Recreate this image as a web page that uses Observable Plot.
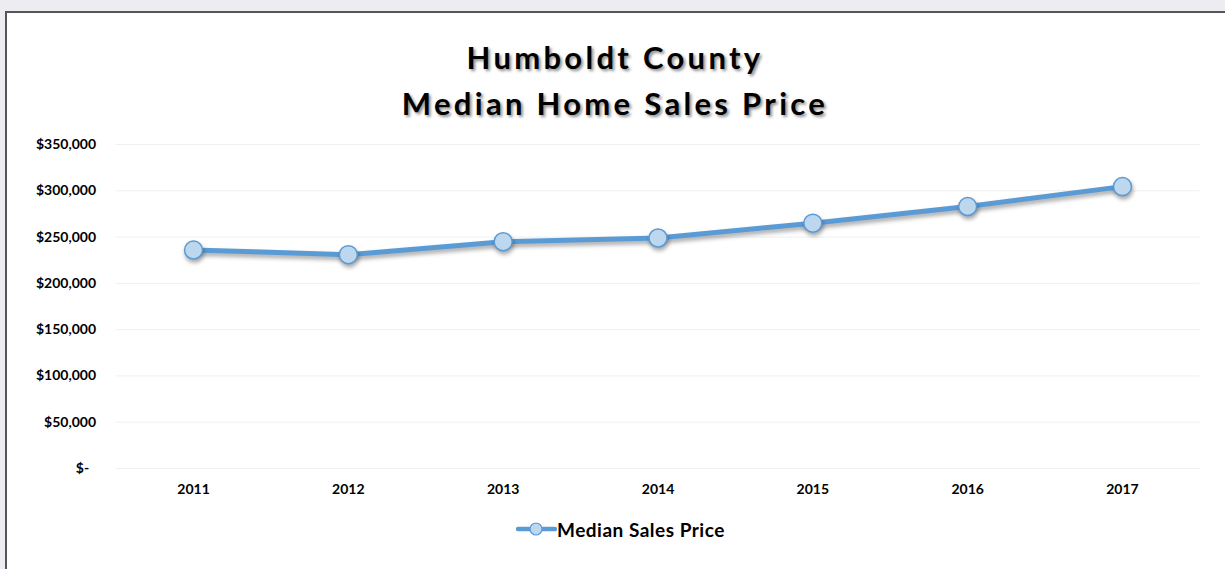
<!DOCTYPE html>
<html>
<head>
<meta charset="utf-8">
<script src="https://cdn.jsdelivr.net/npm/d3@7"></script>
<script src="https://cdn.jsdelivr.net/npm/@observablehq/plot@0.6"></script>
<style>
  html, body { margin: 0; padding: 0; overflow: hidden; }
  body { width: 1225px; height: 569px; background: #ececf1; font-family: Lato, "Open Sans", sans-serif; position: relative; }
  #frame { position: absolute; left: 5px; top: 11px; width: 1300px; height: 600px; border: 2px solid #555; background: #fff; }
  #title { position: absolute; left: 0; top: 0; width: 1216px; text-align: center; font-weight: 700; font-size: 31px; line-height: 46px; padding-top: 21px; letter-spacing: 3.3px; color: #000; text-shadow: 2px 2px 3px rgba(0,0,0,0.45); }
  #chart { position: absolute; left: 0; top: 117px; }
  #legend { position: absolute; left: 509px; top: 504px; height: 24px; display: flex; align-items: center; font-weight: 700; font-size: 19px; letter-spacing: 0.5px; color: #000; }
  #chart g[aria-label="line"] { filter: drop-shadow(1px 3px 2px rgba(0,0,0,0.35)); }
  #chart g[aria-label="dot"] { filter: drop-shadow(1px 3px 2px rgba(0,0,0,0.35)); }
</style>
</head>
<body>
<div id="frame">
  <div id="title">Humboldt County<br>Median Home Sales Price</div>
  <div id="chart"></div>
  <div id="legend">
    <svg width="41" height="24">
      <line x1="2" y1="12" x2="39" y2="12" stroke="#5B9BD5" stroke-width="4.5" stroke-linecap="round"></line>
      <circle cx="20" cy="12" r="6" fill="#BDD7EE" stroke="#5B9BD5" stroke-width="1.2"></circle>
    </svg>
    <span>Median Sales Price</span>
  </div>
</div>
<script>
const years = ["2011", "2012", "2013", "2014", "2015", "2016", "2017"];
const prices = [236000, 231000, 245000, 249000, 265000, 283000, 304500];
const yTicks = [0, 50000, 100000, 150000, 200000, 250000, 300000, 350000];

const data = years.map((year, i) => ({year, price: prices[i]}));
const fmt = v => v === 0 ? "$-\u2002" : "$" + d3.format(",")(v);

const chart = Plot.plot({
  width: 1216,
  height: 370,
  marginTop: 14,
  marginBottom: 32,
  marginLeft: 108.6,
  marginRight: 23.6,
  style: { fontFamily: "Lato, 'Open Sans', sans-serif", fontSize: "14px", fontWeight: "700", color: "#000", background: "transparent", overflow: "visible" },
  x: { type: "point", domain: years, padding: 0.5, round: false, label: null },
  y: { domain: [0, 350000], label: null },
  marks: [
    Plot.ruleY(yTicks, { stroke: "#f0f0f0", strokeWidth: 1 }),
    Plot.axisY(yTicks, { tickSize: 0, tickPadding: 20, tickFormat: fmt, label: null }),
    Plot.axisX({ tickSize: 0, tickPadding: 16, label: null }),
    Plot.line(data, { x: "year", y: "price", stroke: "#5B9BD5", strokeWidth: 5, strokeLinejoin: "round", strokeLinecap: "round" }),
    Plot.dot(data, { x: "year", y: "price", r: 9, fill: "#BDD7EE", stroke: "#5B9BD5", strokeWidth: 1.5, fillOpacity: 1 })
  ]
});
document.getElementById("chart").appendChild(chart);
</script>
</body>
</html>
